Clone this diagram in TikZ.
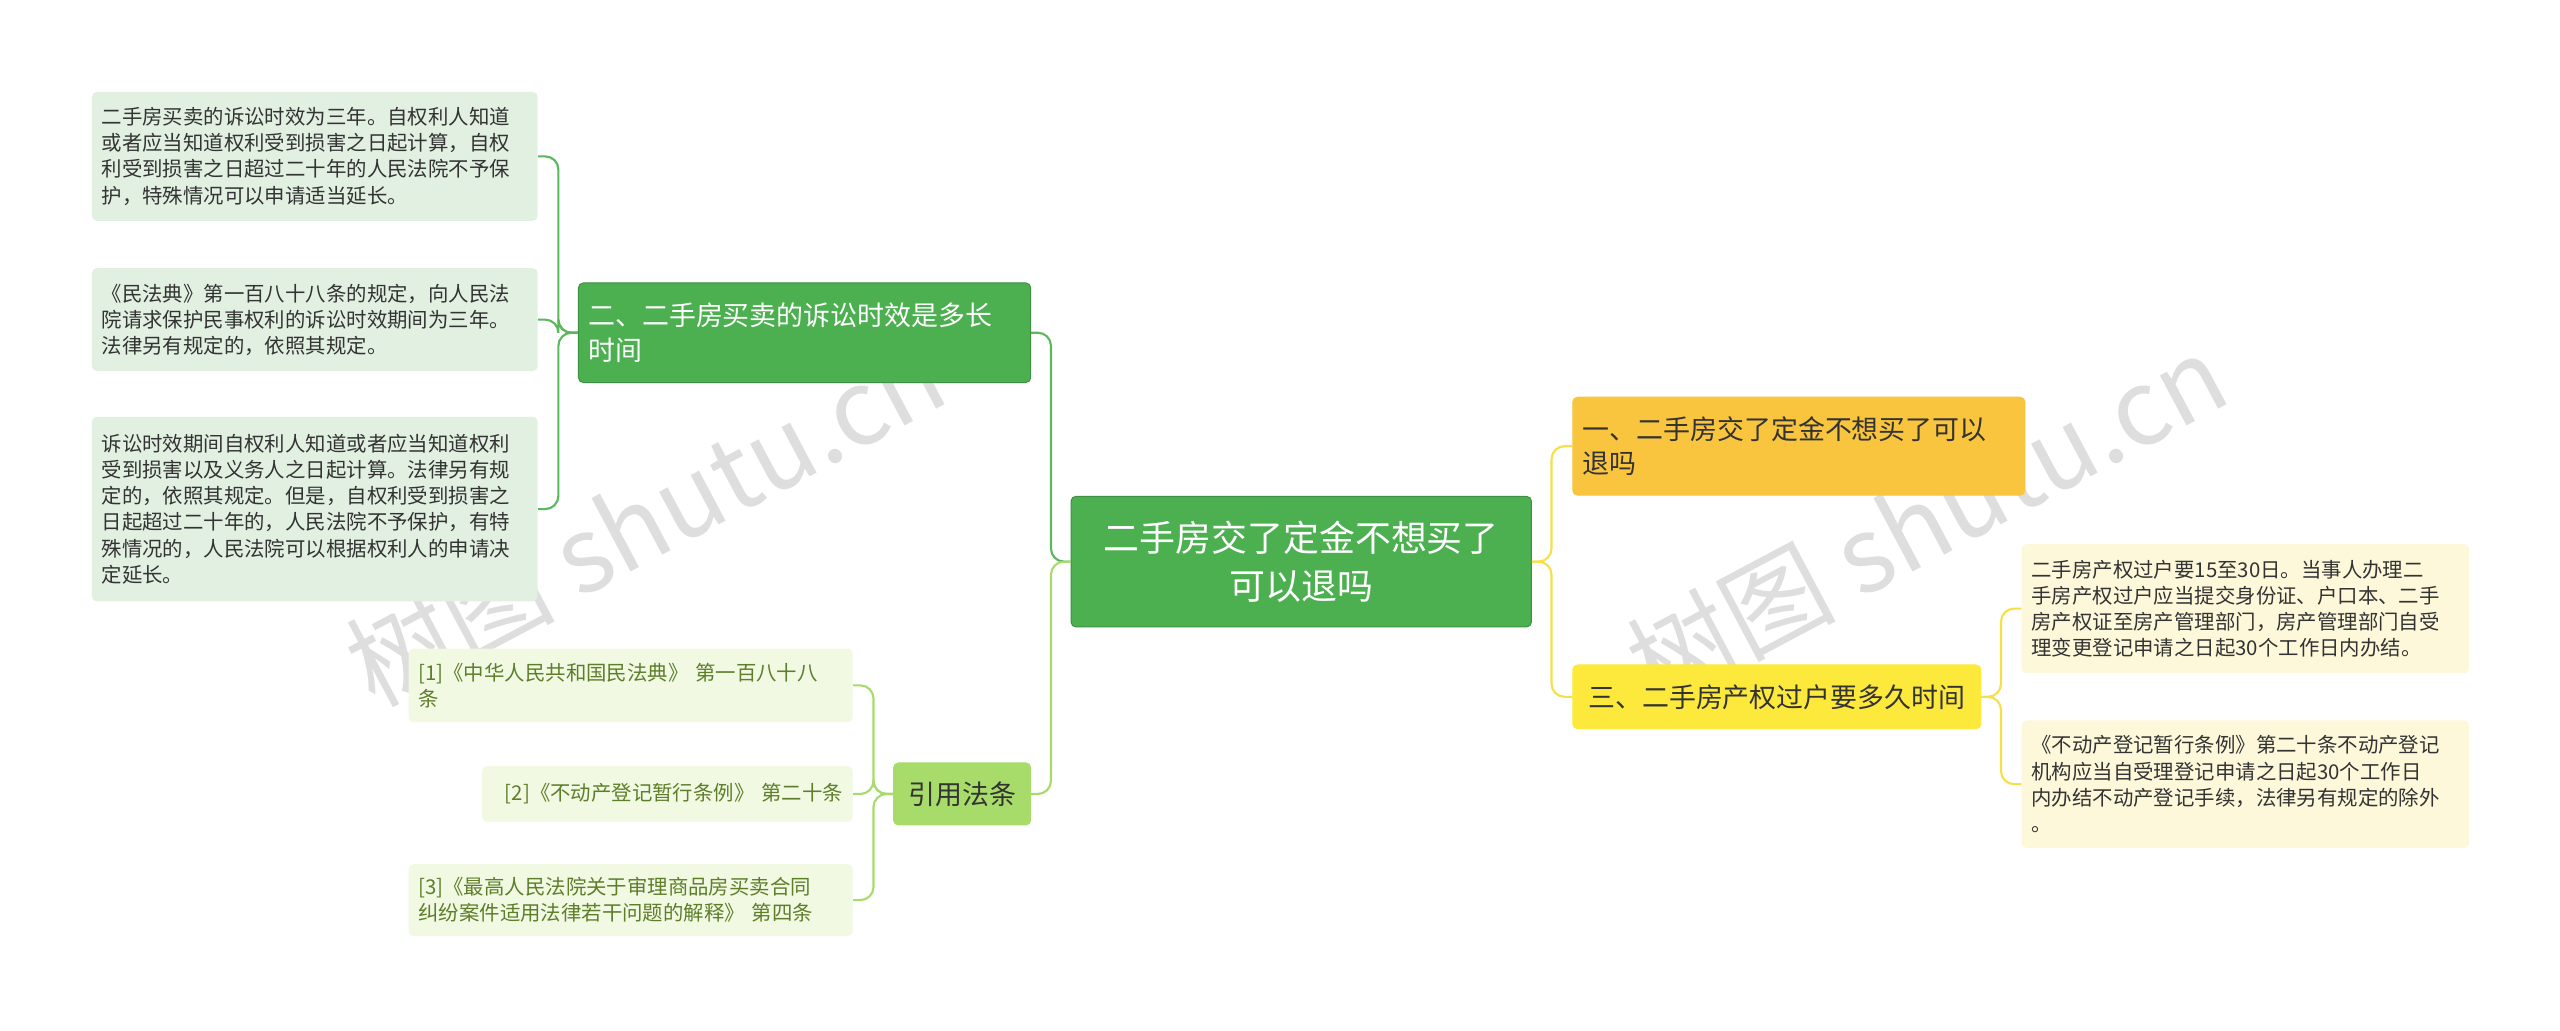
\documentclass[tikz,border=0pt]{standalone}
\usepackage{fontspec}
\setmainfont{Noto Sans CJK SC}
\begin{document}
\begin{tikzpicture}[x=1pt,y=-1pt,
 box/.style={draw,rounded corners=3pt,inner ysep=0pt,inner xsep=6pt,line width=0.6pt},
 sm/.style={font=\fontsize{12.5}{16}\selectfont},
 leafg/.style={box,draw=none,fill=leafgc,text=darkt,sm,align=left,anchor=north west},
 leafy/.style={box,draw=none,fill=leafyc,text=darkt,sm,align=left,anchor=north west},
 reff/.style={box,draw=none,fill=refc,text=reft,sm,align=left,anchor=north west},
 mid/.style={font=\fontsize{16.5}{21}\selectfont},
 conn/.style={line width=1.3pt,rounded corners=8pt}]
\definecolor{cgreen}{HTML}{4CAF50}
\definecolor{cgreenb}{HTML}{3E9142}
\definecolor{leafgc}{HTML}{E2F0E2}
\definecolor{leafyc}{HTML}{FDF8DA}
\definecolor{refc}{HTML}{F1F9E3}
\definecolor{reft}{HTML}{5E7E2A}
\definecolor{darkt}{HTML}{333333}
\definecolor{lgreen}{HTML}{A8DC6A}
\definecolor{orangey}{HTML}{F9C53E}
\definecolor{yel}{HTML}{FCE93B}
\definecolor{lineg}{HTML}{5CB85C}
\definecolor{linely}{HTML}{A8DC6A}
\definecolor{liney}{HTML}{F5E04A}
\useasboundingbox (0,0) rectangle (1568,631);
\fill[white] (0,0) rectangle (1568,631);
% watermarks
\node[rotate=28,text=black!13,font=\fontsize{64}{64}\selectfont] at (395,318) {树图 shutu.cn};
\node[rotate=28,text=black!13,font=\fontsize{64}{64}\selectfont] at (1180,318) {树图 shutu.cn};
% center
\node[box,fill=cgreen,draw=cgreenb,text=white,minimum width=282pt,minimum height=80pt,align=center,font=\fontsize{22}{29}\selectfont] (c) at (797,344) {二手房交了定金不想买了\\可以退吗};
% left branch
\node[box,fill=cgreen,draw=cgreenb,text=white,minimum height=61pt,align=left,mid,anchor=north west,text width=265pt] (b2) at (354,173) {二、二手房买卖的诉讼时效是多长\\时间};
\node[leafg,minimum height=79pt,text width=261pt] (l1) at (56,56) {二手房买卖的诉讼时效为三年。自权利人知道\\或者应当知道权利受到损害之日起计算，自权\\利受到损害之日超过二十年的人民法院不予保\\护，特殊情况可以申请适当延长。};
\node[leafg,minimum height=63pt,text width=261pt] (l2) at (56,164) {《民法典》第一百八十八条的规定，向人民法\\院请求保护民事权利的诉讼时效期间为三年。\\法律另有规定的，依照其规定。};
\node[leafg,minimum height=113pt,text width=261pt] (l3) at (56,255) {诉讼时效期间自权利人知道或者应当知道权利\\受到损害以及义务人之日起计算。法律另有规\\定的，依照其规定。但是，自权利受到损害之\\日起超过二十年的，人民法院不予保护，有特\\殊情况的，人民法院可以根据权利人的申请决\\定延长。};
% refs
\node[box,fill=lgreen,draw=lgreen,text=darkt,minimum width=84pt,minimum height=38pt,mid,anchor=north west] (r) at (547,467) {引用法条};
\node[reff,minimum height=45pt,text width=260pt] (r1) at (250,397) {[1]《中华人民共和国民法典》 第一百八十八\\条};
\node[reff,minimum height=34pt,text width=215pt,align=right] (r2) at (295,469) {[2]《不动产登记暂行条例》 第二十条};
\node[reff,minimum height=44pt,text width=260pt] (r3) at (250,529) {[3]《最高人民法院关于审理商品房买卖合同\\纠纷案件适用法律若干问题的解释》 第四条};
% right
\node[box,fill=orangey,draw=orangey,text=darkt,minimum height=60pt,align=left,text width=265pt,mid,anchor=north west] (b1) at (963,243) {一、二手房交了定金不想买了可以\\退吗};
\node[box,fill=yel,draw=yel,text=darkt,minimum width=250pt,minimum height=39pt,mid,anchor=north west] (b3) at (963,407) {三、二手房产权过户要多久时间};
\node[leafy,minimum height=79pt,text width=262pt] (y1) at (1238,333) {二手房产权过户要15至30日。当事人办理二\\手房产权过户应当提交身份证、户口本、二手\\房产权证至房产管理部门，房产管理部门自受\\理变更登记申请之日起30个工作日内办结。};
\node[leafy,minimum height=78pt,text width=262pt] (y2) at (1238,441) {《不动产登记暂行条例》第二十条不动产登记\\机构应当自受理登记申请之日起30个工作日\\内办结不动产登记手续，法律另有规定的除外\\。};
% connectors
\draw[conn,lineg] (c.west) -- ++(-12,0) |- (b2.east);
\draw[conn,linely] (c.west) -- ++(-12,0) |- (r.east);
\draw[conn,liney] (c.east) -- ++(12,0) |- (b1.west);
\draw[conn,liney] (c.east) -- ++(12,0) |- (b3.west);
\foreach \t in {l1,l2,l3} \draw[conn,lineg] (b2.west) -- ++(-12,0) |- (\t.east);
\foreach \t in {r1,r2,r3} \draw[conn,linely] (r.west) -- ++(-12,0) |- (\t.east);
\foreach \t in {y1,y2} \draw[conn,liney] (b3.east) -- ++(12,0) |- (\t.west);
\end{tikzpicture}
\end{document}
